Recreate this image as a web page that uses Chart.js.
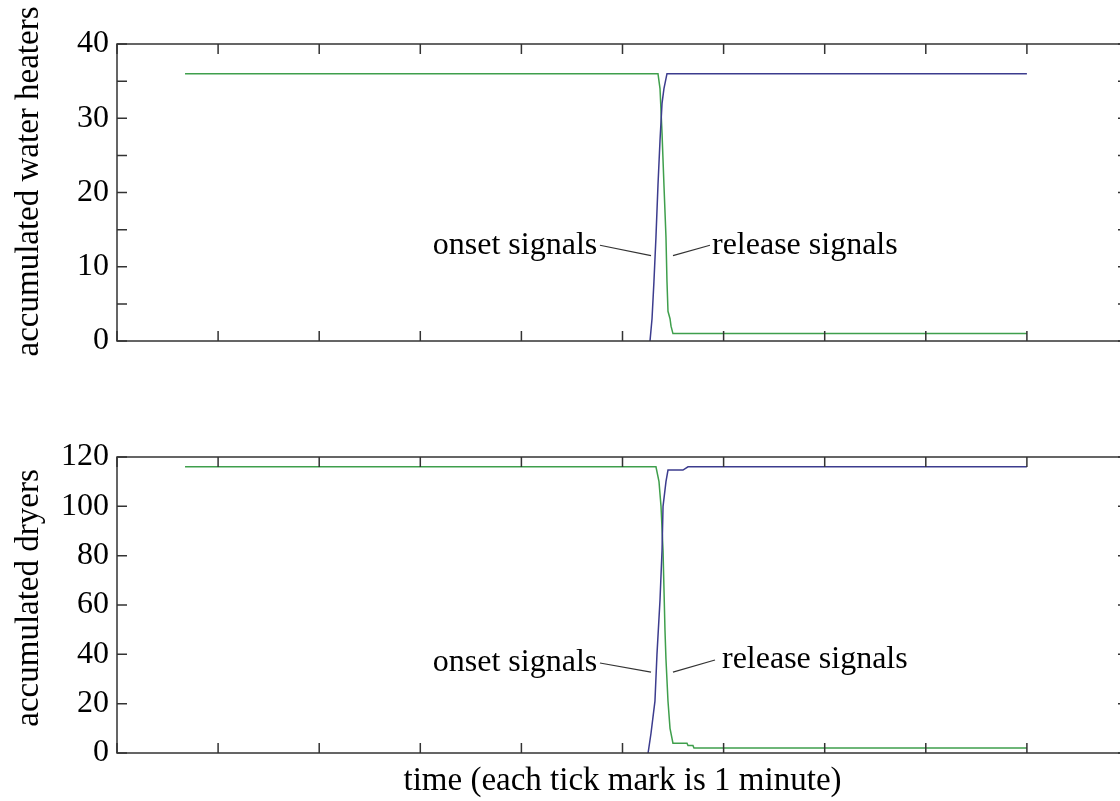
<!DOCTYPE html>
<html>
<head>
<meta charset="utf-8">
<script src="https://cdn.jsdelivr.net/npm/chart.js@4.4.1/dist/chart.umd.min.js"></script>
<style>
  html, body { margin: 0; padding: 0; background: #fff; overflow: hidden; width: 1120px; height: 801px; }
  canvas { display: block; }
</style>
</head>
<body>
<canvas id="heatersChart" width="1140" height="400"></canvas>
<canvas id="dryersChart" width="1140" height="401"></canvas>
<script>
// time axis in minutes (one tick per minute)
const timeTicks = [0, 1, 2, 3, 4, 5, 6, 7, 8, 9, 10];

// water heaters
const heaterOnsetX = [5.272, 5.292, 5.311, 5.331, 5.351, 5.371, 5.391, 5.410, 5.440, 9.0];
const heaterOnsetY = [0, 3, 8, 14, 21, 27, 32, 34, 36, 36];
const heaterReleaseX = [0.673, 5.351, 5.371, 5.391, 5.410, 5.430, 5.440, 5.450, 5.470, 5.480, 5.499, 9.0];
const heaterReleaseY = [36, 36, 34, 28, 21, 14, 8, 4, 3, 2, 1, 1];

// dryers
const dryerOnsetX = [5.253, 5.282, 5.321, 5.341, 5.371, 5.391, 5.401, 5.430, 5.450, 5.598, 5.648, 9.0];
const dryerOnsetY = [0, 8, 21, 40, 62, 82, 100, 110, 114.7, 114.7, 116, 116];
const dryerReleaseX = [0.673, 5.331, 5.361, 5.381, 5.401, 5.420, 5.430, 5.450, 5.470, 5.499, 5.638, 5.648, 5.697, 5.707, 9.0];
const dryerReleaseY = [116, 116, 110, 100, 82, 50, 38, 21, 10, 4, 4, 3, 3, 2, 2];

const onsetColor = '#3c3c8e';
const releaseColor = '#3f9f4c';
const serif = 'Liberation Serif';

function toPoints(xs, ys) {
    return xs.map((x, i) => ({ x: x, y: ys[i] }));
}

// box around the plot with inward tick marks on all four sides, plus the y title
const framePlugin = {
    id: 'frame',
    afterDraw(chart, args, opts) {
        const { ctx, chartArea: a, scales } = chart;
        const len = 10;
        ctx.save();
        ctx.strokeStyle = '#333';
        ctx.lineWidth = 1.5;
        ctx.strokeRect(a.left, a.top, a.right - a.left, a.bottom - a.top);
        ctx.beginPath();
        scales.x.ticks.forEach(t => {
            const px = scales.x.getPixelForValue(t.value);
            ctx.moveTo(px, a.bottom); ctx.lineTo(px, a.bottom - len);
            ctx.moveTo(px, a.top); ctx.lineTo(px, a.top + len);
        });
        scales.y.ticks.forEach(t => {
            const py = scales.y.getPixelForValue(t.value);
            ctx.moveTo(a.left, py); ctx.lineTo(a.left + len, py);
            ctx.moveTo(a.right, py); ctx.lineTo(a.right - len, py);
        });
        ctx.stroke();

        if (opts.yTitle) {
            ctx.translate(29, (a.top + a.bottom) / 2 + (opts.yTitleShift || 0));
            ctx.rotate(-Math.PI / 2);
            ctx.fillStyle = '#000';
            ctx.font = '33px "' + serif + '"';
            ctx.textAlign = 'center';
            ctx.textBaseline = 'middle';
            ctx.fillText(opts.yTitle, 0, 0);
        }
        ctx.restore();
    }
};

// "onset signals" / "release signals" labels with leader lines
const notesPlugin = {
    id: 'notes',
    afterDatasetsDraw(chart, args, opts) {
        const { ctx, scales: { x, y } } = chart;
        ctx.save();
        ctx.strokeStyle = '#333';
        ctx.lineWidth = 1.2;
        ctx.fillStyle = '#000';
        ctx.font = '32px "' + serif + '"';
        ctx.textBaseline = 'middle';
        (opts.items || []).forEach(n => {
            ctx.beginPath();
            ctx.moveTo(x.getPixelForValue(n.from[0]), y.getPixelForValue(n.from[1]));
            ctx.lineTo(x.getPixelForValue(n.to[0]), y.getPixelForValue(n.to[1]));
            ctx.stroke();
            ctx.textAlign = n.align;
            ctx.fillText(n.text, x.getPixelForValue(n.at[0]), y.getPixelForValue(n.at[1]));
        });
        ctx.restore();
    }
};

function makeChart(id, onset, release, yMax, yStep, labelStep, yTitle, yTitleShift, xTitle, padTop, xHeight, notes) {
    const ctx = document.getElementById(id).getContext('2d');
    return new Chart(ctx, {
        type: 'line',
        data: {
            datasets: [{
                label: 'onset signals',
                data: onset,
                borderColor: onsetColor,
                borderWidth: 1.5,
                pointRadius: 0,
                tension: 0,
                fill: false
            }, {
                label: 'release signals',
                data: release,
                borderColor: releaseColor,
                borderWidth: 1.5,
                pointRadius: 0,
                tension: 0,
                fill: false
            }]
        },
        options: {
            responsive: false,
            animation: false,
            layout: { padding: { top: padTop, right: 12, left: 0, bottom: 0 } },
            plugins: {
                legend: { display: false },
                tooltip: { enabled: false },
                notes: { items: notes },
                frame: { yTitle: yTitle, yTitleShift: yTitleShift }
            },
            scales: {
                x: {
                    type: 'linear',
                    min: timeTicks[0],
                    max: timeTicks[timeTicks.length - 1],
                    afterBuildTicks: s => { s.ticks = timeTicks.map(v => ({ value: v })); },
                    ticks: { display: false },
                    grid: { display: false, drawTicks: false },
                    border: { display: false },
                    title: {
                        display: !!xTitle,
                        text: xTitle || '',
                        color: '#000',
                        font: { family: serif, size: 33 },
                        padding: 0
                    },
                    afterFit: s => { s.height = xHeight; }
                },
                y: {
                    min: 0,
                    max: yMax,
                    ticks: {
                        stepSize: yStep,
                        autoSkip: false,
                        color: '#000',
                        padding: 8,
                        font: { family: serif, size: 32 },
                        callback: v => (v % labelStep === 0 ? v : '')
                    },
                    grid: { display: false, drawTicks: false },
                    border: { display: false },
                    afterFit: s => { s.width = 117; }
                }
            }
        },
        plugins: [framePlugin, notesPlugin]
    });
}

makeChart('heatersChart',
    toPoints(heaterOnsetX, heaterOnsetY),
    toPoints(heaterReleaseX, heaterReleaseY),
    40, 5, 10, 'accumulated water heaters', -11, null, 44, 59,
    [
        { text: 'onset signals', align: 'right', at: [4.75, 12.9], from: [4.777, 12.9], to: [5.282, 11.5] },
        { text: 'release signals', align: 'left', at: [5.885, 12.9], from: [5.499, 11.5], to: [5.865, 12.9] }
    ]);

makeChart('dryersChart',
    toPoints(dryerOnsetX, dryerOnsetY),
    toPoints(dryerReleaseX, dryerReleaseY),
    120, 20, 20, 'accumulated dryers', -7, 'time (each tick mark is 1 minute)', 57, 48,
    [
        { text: 'onset signals', align: 'right', at: [4.75, 36.5], from: [4.777, 36.5], to: [5.282, 32.8] },
        { text: 'release signals', align: 'left', at: [5.984, 37.7], from: [5.499, 32.8], to: [5.915, 37.7] }
    ]);
</script>
</body>
</html>
